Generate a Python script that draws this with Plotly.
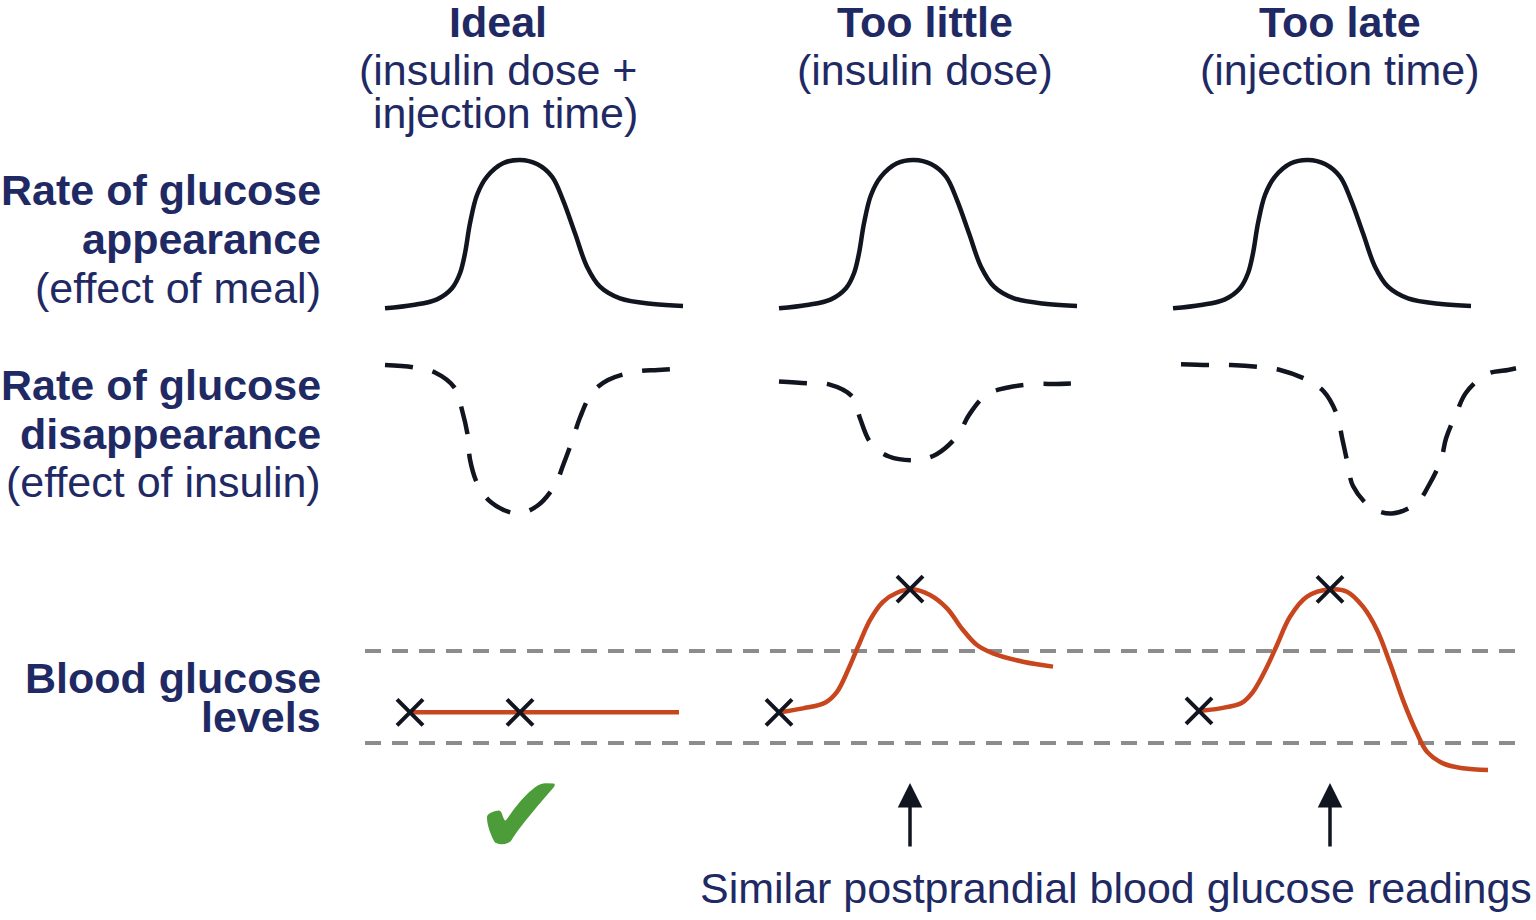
import plotly.graph_objects as go

W, H = 1536, 920

# ---------------- data ----------------
column_titles = ["Ideal", "Too little", "Too late"]
column_subtitles = [["(insulin dose +", "injection time)"], ["(insulin dose)"], ["(injection time)"]]
row_labels = [
    [("Rate of glucose", True), ("appearance", True), ("(effect of meal)", False)],
    [("Rate of glucose", True), ("disappearance", True), ("(effect of insulin)", False)],
    [("Blood glucose", True), ("levels", True)],
]
footer_text = "Similar postprandial blood glucose readings"

# meal effect: rate of glucose appearance (same in every column)
meal_time = [0, 28, 52, 67, 75, 80, 85, 92, 102, 118, 135, 152, 167, 178, 190, 202, 215, 235, 268, 298]
meal_rate = [1.1, 3.3, 7.1, 14.5, 24.5, 37.8, 57.8, 76.7, 88.9, 97.8, 100, 97.3, 88.9, 73.3, 51.1, 28.9, 15.6, 7.8, 4.0, 2.7]

# insulin effect: rate of glucose disappearance
ins_ideal_time = [0, 28, 50, 70, 77, 83, 85, 93, 107, 132, 152, 170, 178, 188, 195, 207, 223, 250, 273, 298]
ins_ideal_rate = [0, -1.5, -5, -15.5, -30, -48, -63, -80, -92, -99, -94, -80, -67, -49, -35, -18.5, -10, -4.5, -3.3, -2.2]

ins_little_time = [0, 28, 50, 74, 81, 92, 110, 138, 158, 179, 190, 208, 229, 256, 278, 298]
ins_little_rate = [-11, -12.2, -12.9, -21.5, -35.5, -52.2, -61, -63.3, -59.3, -46.7, -33.3, -19.5, -15, -12.7, -12.7, -12.2]

ins_late_time = [8, 35, 58, 84, 107, 133, 151, 164, 169, 175, 180, 198, 219, 244, 256, 268, 273, 284, 293, 314, 335, 343]
ins_late_rate = [0.5, 0, 0, -1.1, -3.3, -9.6, -17.8, -33.3, -48.3, -66.7, -80.7, -94.9, -99, -91.8, -80, -63.3, -49, -31, -18.5, -6, -3.3, -2.2]

# blood glucose (mg/dL)
glu_ideal_time = [25, 294]
glu_ideal_val = [100, 100]
glu_little_time = [0, 24, 46, 58, 69, 79, 91, 104, 118, 133, 151, 168, 184, 198, 214, 244, 274]
glu_little_val = [100, 102.6, 106.3, 113.4, 127.6, 142.8, 160.2, 172.1, 178, 180.2, 176.5, 167.8, 153.7, 143.9, 138.5, 133, 129.8]
glu_late_time = [26, 47, 69, 80, 94, 104, 117, 134, 157, 174, 190, 204, 217, 230, 244, 254, 270, 290, 315]
glu_late_val = [101, 102.6, 106.3, 113.4, 129.7, 143.9, 162.3, 175.4, 180.2, 178.7, 168.9, 153.7, 132, 108, 86.3, 74.3, 66.7, 63.5, 62.4]

# glucose readings (X marks)
read_ideal_time = [25, 135]
read_ideal_val = [100, 100]
read_little_time = [0, 131]
read_little_val = [100, 180.4]
read_late_time = [26, 157]
read_late_val = [101, 180.2]

# target range
target_low, target_high = 80, 140

# ---------------- styles ----------------
NAVY = "#1f2a64"
INK = "#11151f"
ORANGE = "#c8461e"
GREY = "#8c8c8c"
GREEN = "#4c9d3a"
FONT = "Liberation Sans, Arial, sans-serif"
FS = 43

fig = go.Figure()

xaxes = ["x", "x2", "x3"]

# meal row
for xa in xaxes:
    fig.add_trace(go.Scatter(x=meal_time, y=meal_rate, mode="lines", xaxis=xa, yaxis="y",
                             line=dict(color=INK, width=4.5, shape="spline"), hoverinfo="skip"))

# insulin row
for xa, t, v in zip(xaxes, [ins_ideal_time, ins_little_time, ins_late_time],
                    [ins_ideal_rate, ins_little_rate, ins_late_rate]):
    fig.add_trace(go.Scatter(x=t, y=v, mode="lines", xaxis=xa, yaxis="y2",
                             line=dict(color=INK, width=4.5, shape="spline", dash="28px,20px"),
                             hoverinfo="skip"))

# glucose row
for xa, t, v in zip(xaxes, [glu_ideal_time, glu_little_time, glu_late_time],
                    [glu_ideal_val, glu_little_val, glu_late_val]):
    fig.add_trace(go.Scatter(x=t, y=v, mode="lines", xaxis=xa, yaxis="y3",
                             line=dict(color=ORANGE, width=4.5, shape="spline"), hoverinfo="skip"))

for xa, t, v in zip(xaxes, [read_ideal_time, read_little_time, read_late_time],
                    [read_ideal_val, read_little_val, read_late_val]):
    fig.add_trace(go.Scatter(x=t, y=v, mode="markers", xaxis=xa, yaxis="y3",
                             marker=dict(symbol="x-thin", size=26, line=dict(color=INK, width=4)),
                             hoverinfo="skip", cliponaxis=False))

# target range lines
for g in (target_low, target_high):
    fig.add_shape(type="line", xref="paper", yref="y3", x0=365 / W, x1=1518 / W, y0=g, y1=g,
                  line=dict(color=GREY, width=4, dash="16px,11px"), layer="below")

# ---------------- text ----------------
ann = []


def text(s, x, y, size=FS, bold=False, xanchor="center", color=NAVY, family=FONT):
    ann.append(dict(xref="paper", yref="paper", x=x / W, y=1 - y / H,
                    text=f"<b>{s}</b>" if bold else s, showarrow=False,
                    xanchor=xanchor, yanchor="middle", borderpad=0,
                    font=dict(family=family, size=size, color=color)))


title_x = [498, 925, 1340]
for cx, title, subs in zip(title_x, column_titles, column_subtitles):
    text(title, cx, 22, bold=True)
    for i, s in enumerate(subs):
        text(s, cx + (7 if i == 1 else 0), 70 + 43 * i)

row_y = [[190, 239, 288], [385, 434, 482], [678, 717]]
for labels, ys in zip(row_labels, row_y):
    for (s, b), y in zip(labels, ys):
        text(s, 322, y, bold=b, xanchor="right")

text(footer_text, 1116, 888)
text("\u2714", 521, 815, size=112, color=GREEN, family="DejaVu Sans")

# arrows pointing at the similar readings
for xa, t in (("x2", read_little_time[1]), ("x3", read_late_time[1])):
    ann.append(dict(xref=xa, yref="paper", x=t, y=1 - 783 / H, text="", showarrow=True,
                    ax=0, ay=65, arrowhead=2, arrowsize=1.4, arrowwidth=3.5, arrowcolor=INK,
                    standoff=0))

fig.update_layout(annotations=ann)

# ---------------- axes / layout ----------------
col_left = [385, 779, 1173]
axis_common = dict(visible=False, showgrid=False, zeroline=False, fixedrange=True)
for i, left in enumerate(col_left):
    key = "xaxis" if i == 0 else f"xaxis{i + 1}"
    fig.layout[key] = dict(domain=[(left - 20) / W, (left + 360) / W], range=[-20, 360],
                           anchor="y3", **axis_common)

fig.layout["yaxis"] = dict(domain=[1 - 325 / H, 1 - 145 / H], range=[-10, 110], anchor="x", **axis_common)
fig.layout["yaxis2"] = dict(domain=[1 - 530 / H, 1 - 350 / H], range=[-110, 10], anchor="x", **axis_common)
fig.layout["yaxis3"] = dict(domain=[1 - 789 / H, 1 - 559 / H], range=[50, 200], anchor="x", **axis_common)

fig.update_layout(width=W, height=H, margin=dict(l=0, r=0, t=0, b=0),
                  paper_bgcolor="white", plot_bgcolor="rgba(0,0,0,0)",
                  showlegend=False, hovermode=False)

fig.write_html("out.html", config={"displayModeBar": False},
               post_script="document.body.style.margin='0';document.body.style.overflow='hidden';")
